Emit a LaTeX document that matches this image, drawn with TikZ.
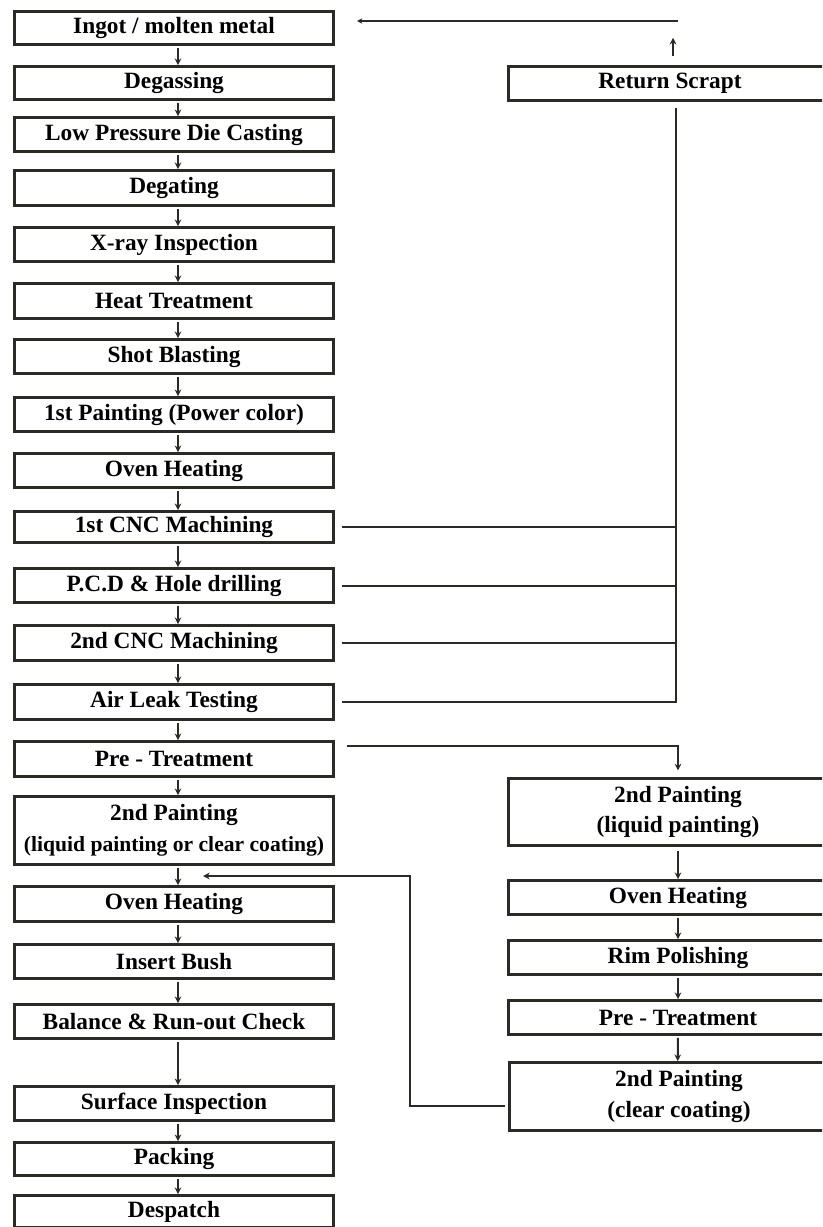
\documentclass[tikz,border=0pt]{standalone}
\usepackage{fontspec}
\setmainfont{Liberation Serif}
\usetikzlibrary{arrows.meta}
\definecolor{ln}{HTML}{2B2A24}
\begin{document}
\begin{tikzpicture}[x=0.75pt,y=-0.75pt,
  box/.style={draw=ln, line width=2.1pt, fill=white, inner sep=0pt, align=center,
    font=\fontsize{17.5}{23}\selectfont\bfseries},
  lbox/.style={box, minimum width=319*0.75pt},
  rbox/.style={box, minimum width=339*0.75pt},
  conn/.style={draw=ln, line width=1.5pt},
  arr/.style={conn, -{Stealth[length=5pt,width=5pt]}},
]
\useasboundingbox (0,0) rectangle (822,1227);
\clip (0,0) rectangle (822,1227);
\fill[white] (0,0) rectangle (822,1227);

% left column
\node[lbox, minimum height=33*0.75pt] (b1) at (174,28) {Ingot / molten metal};
\node[lbox, minimum height=33*0.75pt] (b2) at (174,83) {Degassing};
\node[lbox, minimum height=34*0.75pt] (b3) at (174,134.5) {Low Pressure Die Casting};
\node[lbox, minimum height=35*0.75pt] (b4) at (174,188) {Degating};
\node[lbox, minimum height=34*0.75pt] (b5) at (174,244.5) {X-ray Inspection};
\node[lbox, minimum height=35*0.75pt] (b6) at (174,301) {Heat Treatment};
\node[lbox, minimum height=34*0.75pt] (b7) at (174,356.5) {Shot Blasting};
\node[lbox, minimum height=34*0.75pt] (b8) at (174,414.5) {1st Painting (Power color)};
\node[lbox, minimum height=34*0.75pt] (b9) at (174,470.5) {Oven Heating};
\node[lbox, minimum height=31*0.75pt] (b10) at (174,527) {1st CNC Machining};
\node[lbox, minimum height=34*0.75pt] (b11) at (174,585.5) {P.C.D \& Hole drilling};
\node[lbox, minimum height=35*0.75pt] (b12) at (174,643) {2nd CNC Machining};
\node[lbox, minimum height=35*0.75pt] (b13) at (174,702) {Air Leak Testing};
\node[lbox, minimum height=35*0.75pt] (b14) at (174,759) {Pre - Treatment};
\node[lbox, minimum height=68*0.75pt] (b15) at (174,830.5) {2nd Painting\\{\fontsize{16.2}{23}\selectfont(liquid painting or clear coating)}};
\node[lbox, minimum height=35*0.75pt] (b16) at (174,904) {Oven Heating};
\node[lbox, minimum height=34*0.75pt] (b17) at (174,961.5) {Insert Bush};
\node[lbox, minimum height=34*0.75pt] (b18) at (174,1021.5) {Balance \& Run-out Check};
\node[lbox, minimum height=34*0.75pt] (b19) at (174,1103.5) {Surface Inspection};
\node[lbox, minimum height=33*0.75pt] (b20) at (174,1159) {Packing};
\node[lbox, minimum height=32*0.75pt] (b21) at (174,1211.5) {Despatch};

% right column
\node[box, minimum width=323*0.75pt, minimum height=34*0.75pt] (rs) at (670,83.5) {Return Scrapt};
\node[rbox, minimum height=67*0.75pt] (r1) at (678,812) {2nd Painting\\(liquid painting)};
\node[rbox, minimum height=34*0.75pt] (r2) at (678,897.5) {Oven Heating};
\node[rbox, minimum height=34*0.75pt] (r3) at (678,957.5) {Rim Polishing};
\node[rbox, minimum height=34*0.75pt] (r4) at (678,1017.5) {Pre - Treatment};
\node[rbox, minimum height=68*0.75pt] (r5) at (679,1096.5) {2nd Painting\\(clear coating)};

% helper coordinates
\coordinate (ax) at (178,0);
\coordinate (vx) at (676,0);
\coordinate (ux) at (673,0);
\coordinate (tr) at (678,21);
\coordinate (tl) at (357,21);
\coordinate (fx) at (410,0);
\coordinate (fy) at (0,1106);
\coordinate (ft) at (203,876);

% main flow arrows
\foreach \a/\b in {b1/b2,b2/b3,b3/b4,b4/b5,b5/b6,b6/b7,b7/b8,b8/b9,b9/b10,b10/b11,
  b11/b12,b12/b13,b13/b14,b14/b15,b15/b16,b16/b17,b17/b18,b18/b19,b19/b20,b20/b21}
  \draw[arr, shorten <=1.5pt] (\a.south -| ax) -- (\b.north -| ax);

% return scrap
\draw[conn, line width=1.1pt, -{Stealth[length=4pt,width=4pt]}] (tr) -- (tl);
\draw[arr] ([yshift=7pt]rs.north -| ux) -- ++(0,-18);
\draw[conn] ([yshift=-4.5pt]rs.south -| vx) -- (b13.east -| vx) -- ([xshift=5pt]b13.east);
\draw[conn] ([xshift=5pt]b10.east) -- (b10.east -| vx);
\draw[conn] ([xshift=5pt]b11.east) -- (b11.east -| vx);
\draw[conn] ([xshift=5pt]b12.east) -- (b12.east -| vx);

% branch to right column
\draw[arr, shorten >=5pt] ([xshift=9pt,yshift=9.5pt]b14.east) -| (r1.north);
\draw[arr, shorten <=3pt] (r1.south) -- (r2.north);
\draw[arr, shorten <=1.5pt] (r2.south) -- (r3.north);
\draw[arr, shorten <=1.5pt] (r3.south) -- (r4.north);
\draw[arr, shorten <=1.5pt] (r4.south) -- ([xshift=-1pt]r5.north);

% feedback
\draw[arr, shorten <=2pt] (r5.west |- fy) -- (fx |- fy) -- (fx |- ft) -- (ft);
\end{tikzpicture}
\end{document}
